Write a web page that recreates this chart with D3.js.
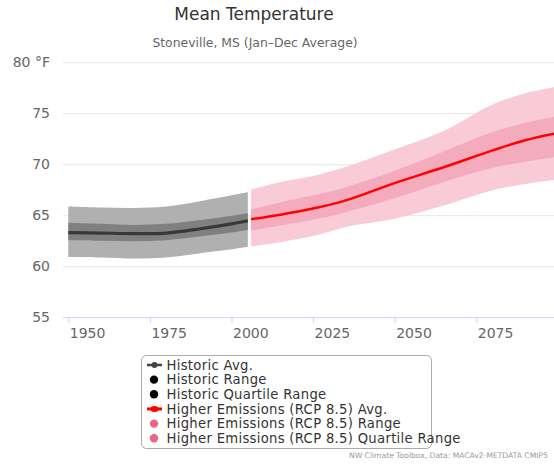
<!DOCTYPE html>
<html>
<head>
<meta charset="utf-8">
<script src="https://cdn.jsdelivr.net/npm/d3@7"></script>
<style>
  html, body { margin: 0; padding: 0; background: #fff; }
  svg { display: block; font-family: "DejaVu Sans", Verdana, sans-serif; }
</style>
</head>
<body>
<svg id="chart" width="554" height="464"></svg>
<script>
// Historic observations, 1950–2005 (°F)
const histYears = [1950, 1960, 1970, 1980, 1990, 2000, 2005];
const histAvg   = [63.35, 63.3, 63.25, 63.3, 63.7, 64.2, 64.5];
const histMax   = [65.9, 65.8, 65.75, 65.9, 66.4, 67.0, 67.3];
const histMin   = [60.95, 60.9, 60.8, 60.9, 61.3, 61.7, 61.95];
const histQHi   = [64.3, 64.2, 64.1, 64.2, 64.55, 65.0, 65.25];
const histQLo   = [62.6, 62.55, 62.5, 62.6, 62.95, 63.35, 63.6];

// Higher emissions (RCP 8.5) projections, 2006–2099 (°F)
const rcpYears = [2006, 2015, 2025, 2035, 2050, 2065, 2080, 2090, 2099];
const rcpAvg   = [64.65, 65.1, 65.7, 66.5, 68.2, 69.75, 71.4, 72.4, 73.05];
const rcpMax   = [67.55, 68.3, 68.9, 69.8, 71.5, 73.3, 75.9, 77.0, 77.6];
const rcpMin   = [62.0, 62.4, 63.0, 63.9, 64.7, 66.0, 67.5, 68.1, 68.5];
const rcpQHi   = [65.6, 66.3, 67.0, 67.8, 69.4, 71.3, 73.2, 74.1, 74.7];
const rcpQLo   = [63.55, 64.05, 64.6, 65.35, 66.7, 68.3, 69.7, 70.3, 70.75];

const yTicks = [55, 60, 65, 70, 75, 80];
const xTicks = [1950, 1975, 2000, 2025, 2050, 2075];

const legendItems = [
  { label: "Historic Avg.", kind: "line", color: "#444444" },
  { label: "Historic Range", kind: "dot", color: "#000000" },
  { label: "Historic Quartile Range", kind: "dot", color: "#000000" },
  { label: "Higher Emissions (RCP 8.5) Avg.", kind: "line", color: "#ff0000" },
  { label: "Higher Emissions (RCP 8.5) Range", kind: "dot", color: "#ec6587" },
  { label: "Higher Emissions (RCP 8.5) Quartile Range", kind: "dot", color: "#ec6587" }
];

const svg = d3.select("#chart");

const plotLeft = 63, plotRight = 600;
const x = d3.scaleLinear().domain([1950, 2075]).range([68.3, 476.3]);
const y = d3.scaleLinear().domain([55, 80]).range([317.7, 62.7]);

// Titles
svg.append("text").attr("x", 254).attr("y", 20).attr("text-anchor", "middle")
  .attr("font-size", 17).attr("fill", "#333").text("Mean Temperature");
svg.append("text").attr("x", 255).attr("y", 46.5).attr("text-anchor", "middle")
  .attr("font-size", 12.4).attr("fill", "#666").text("Stoneville, MS (Jan–Dec Average)");

// Horizontal grid lines
svg.append("g").selectAll("line").data(yTicks.filter(d => d !== 55)).join("line")
  .attr("x1", plotLeft).attr("x2", plotRight)
  .attr("y1", d => y(d)).attr("y2", d => y(d))
  .attr("stroke", "#e6e6e6").attr("stroke-width", 1);

// Y axis labels
svg.append("g").selectAll("text").data(yTicks).join("text")
  .attr("x", 50).attr("y", d => y(d) + 4.5).attr("text-anchor", "end")
  .attr("font-size", 14).attr("fill", "#666")
  .text(d => d === 80 ? "80 °F" : d);

// Bottom axis
const xAxis = d3.axisBottom(x).tickValues(xTicks).tickSize(5).tickFormat(d3.format("d"));
const gx = svg.append("g").attr("transform", `translate(0,${y(55)})`).call(xAxis);
gx.select(".domain").remove();
gx.selectAll(".tick line").attr("stroke", "#ccd6eb");
gx.selectAll(".tick text").attr("font-size", 14).attr("fill", "#666")
  .attr("text-anchor", "start").attr("dx", 1).attr("y", 10)
  .attr("font-family", "DejaVu Sans, Verdana, sans-serif");
svg.append("line").attr("x1", plotLeft).attr("x2", plotRight)
  .attr("y1", y(55)).attr("y2", y(55)).attr("stroke", "#ccd6eb");

// Series
const curve = d3.curveCatmullRom.alpha(0.5);
function band(years, lo, hi) {
  return d3.area().curve(curve)
    .x((d, i) => x(years[i])).y0((d, i) => y(lo[i])).y1((d, i) => y(hi[i]))(years);
}
function line(years, v) {
  return d3.line().curve(curve).x((d, i) => x(years[i])).y((d, i) => y(v[i]))(years);
}

const series = svg.append("g");
series.append("path").attr("d", band(histYears, histMin, histMax)).attr("fill", "#b0b0b0");
series.append("path").attr("d", band(histYears, histQLo, histQHi)).attr("fill", "#808080");
series.append("path").attr("d", line(histYears, histAvg)).attr("fill", "none")
  .attr("stroke", "#383838").attr("stroke-width", 3.2);

series.append("path").attr("d", band(rcpYears, rcpMin, rcpMax)).attr("fill", "#f8cbd7");
series.append("path").attr("d", band(rcpYears, rcpQLo, rcpQHi)).attr("fill", "#f4abbe");
series.append("path").attr("d", line(rcpYears, rcpAvg)).attr("fill", "none")
  .attr("stroke", "#ff0000").attr("stroke-width", 2.5);

// Legend
const lg = svg.append("g");
lg.append("rect").attr("x", 141.5).attr("y", 355.5).attr("width", 290).attr("height", 93)
  .attr("rx", 5).attr("fill", "#fff").attr("stroke", "#aaa").attr("stroke-width", 1);
const rows = lg.selectAll("g.item").data(legendItems).join("g")
  .attr("transform", (d, i) => `translate(0,${365 + i * 14.65})`);
rows.filter(d => d.kind === "line").append("line")
  .attr("x1", 147).attr("x2", 162).attr("y1", 0).attr("y2", 0)
  .attr("stroke", d => d.color).attr("stroke-width", d => d.color === "#ff0000" ? 3 : 2.5);
rows.filter(d => d.kind === "line").append("ellipse")
  .attr("cx", 154.5).attr("cy", 0).attr("rx", d => d.color === "#ff0000" ? 4 : 3).attr("ry", 3)
  .attr("fill", d => d.color);
rows.filter(d => d.kind === "dot").append("circle")
  .attr("cx", 154).attr("cy", 0).attr("r", 4.2).attr("fill", d => d.color);
rows.append("text").attr("x", 166.5).attr("y", 4.7)
  .attr("font-size", 13.2).attr("letter-spacing", 0.3).attr("fill", "#333").text(d => d.label);

// Credits
svg.append("text").attr("x", 349).attr("y", 458).attr("font-size", 7.6)
  .attr("fill", "#999").text("NW Climate Toolbox, Data: MACAv2-METDATA CMIP5");
</script>
</body>
</html>
